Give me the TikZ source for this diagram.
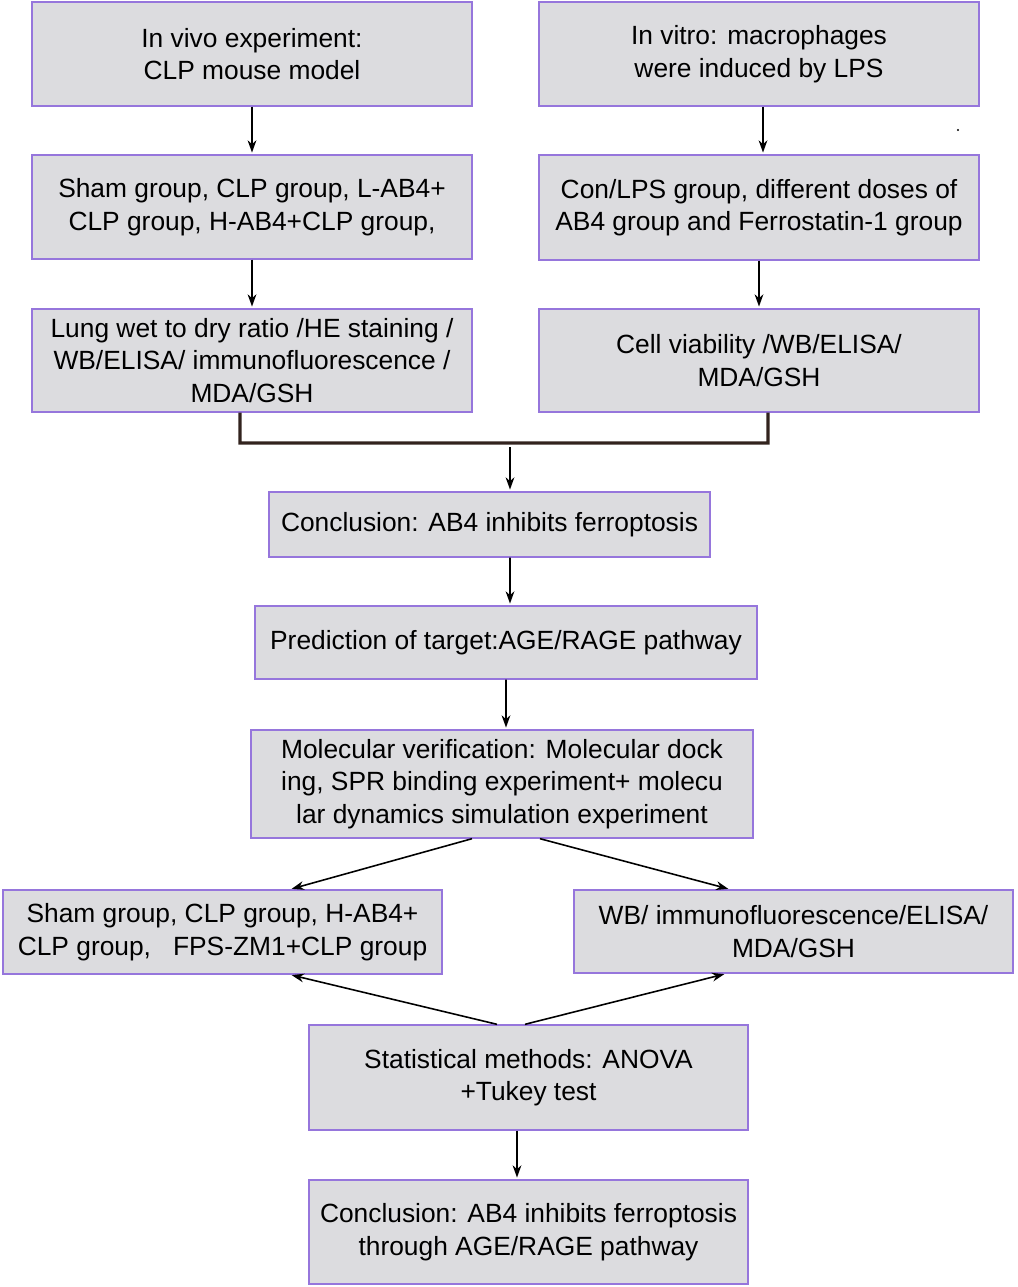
\documentclass[tikz,border=0pt]{standalone}
\usepackage{fontspec}
\setmainfont{Liberation Sans}
\usetikzlibrary{arrows.meta}
\definecolor{boxfill}{RGB}{220,220,223}
\definecolor{boxline}{RGB}{150,118,220}
\definecolor{brack}{RGB}{50,35,30}
\begin{document}
\begin{tikzpicture}[
x=0.02cm,y=-0.02cm,
>={Stealth[length=7pt,width=5pt]},
stage/.style={draw=boxline,fill=boxfill,line width=0.8pt,align=center,
  font=\fontsize{15}{18.5}\selectfont,inner sep=0pt},
arr/.style={draw,->,line width=0.9pt,shorten >=1pt}
]
\useasboundingbox (0,0) rectangle (1017,1287);

\node[stage,minimum width=8.8cm,minimum height=2.08cm] (vivo) at (252,54) {In vivo experiment:\\CLP mouse model};
\node[stage,minimum width=8.8cm,minimum height=2.08cm] (vitro) at (759,54) {In vitro: macrophages\\were induced by LPS};
\node[stage,minimum width=8.8cm,minimum height=2.08cm] (sham) at (252,207) {Sham group, CLP group, L-AB4+\\CLP group, H-AB4+CLP group,};
\node[stage,minimum width=8.8cm,minimum height=2.1cm] (con) at (759,207.5) {Con/LPS group, different doses of\\AB4 group and Ferrostatin-1 group};
\node[stage,minimum width=8.8cm,minimum height=2.06cm] (lung) at (252,360.5) {Lung wet to dry ratio /HE staining /\\WB/ELISA/ immunofluorescence /\\MDA/GSH};
\node[stage,minimum width=8.8cm,minimum height=2.06cm] (cell) at (759,360.5) {Cell viability /WB/ELISA/\\MDA/GSH};
\node[stage,minimum width=8.82cm,minimum height=1.3cm] (concl) at (489.5,524.5) {Conclusion: AB4 inhibits ferroptosis};
\node[stage,minimum width=10.04cm,minimum height=1.46cm] (pred) at (506,642.5) {Prediction of target:AGE/RAGE pathway};
\node[stage,minimum width=10.04cm,minimum height=2.16cm] (molec) at (502,784) {Molecular verification: Molecular dock\\ing, SPR binding experiment+ molecu\\lar dynamics simulation experiment};
\node[stage,minimum width=8.78cm,minimum height=1.68cm] (shamb) at (222.5,932) {Sham group, CLP group, H-AB4+\\CLP group,\ \ \ FPS-ZM1+CLP group};
\node[stage,minimum width=8.78cm,minimum height=1.66cm] (wb) at (793.5,931.5) {WB/ immunofluorescence/ELISA/\\MDA/GSH};
\node[stage,minimum width=8.78cm,minimum height=2.1cm] (stat) at (528.5,1077.5) {Statistical methods: ANOVA\\+Tukey test};
\node[stage,minimum width=8.78cm,minimum height=2.08cm] (final) at (528.5,1232) {Conclusion: AB4 inhibits ferroptosis\\through AGE/RAGE pathway};
\fill (958,130) circle (0.6pt);

% bracket joining both branches
\coordinate (jl) at (240,443);
\coordinate (jr) at (768,443);
\coordinate (jm) at (510,447);
\draw[brack,line width=1.8pt] ([xshift=-0.24cm]lung.south) -- (jl) -- (jr) -- ([xshift=0.18cm]cell.south);

\path[arr] (vivo) -- (sham);
\path[arr] ([xshift=0.08cm]vitro.south) -- ([xshift=0.08cm]con.north);
\path[arr] (sham) -- (lung);
\path[arr] (con) -- (cell);
\path[arr] (jm) -- ([xshift=0.41cm]concl.north);
\path[arr] ([xshift=0.41cm]concl.south) -- ([xshift=0.08cm]pred.north);
\path[arr] (pred) -- ([xshift=0.08cm]molec.north);
\path[arr] ([xshift=-0.6cm]molec.south) -- ([xshift=1.35cm]shamb.north);
\path[arr] ([xshift=0.76cm]molec.south) -- ([xshift=-1.27cm]wb.north);
\path[arr] ([xshift=-0.63cm]stat.north) -- ([xshift=1.35cm]shamb.south);
\path[arr] ([xshift=-0.07cm]stat.north) -- ([xshift=-1.35cm]wb.south);
\path[arr] ([xshift=-0.23cm]stat.south) -- ([xshift=-0.23cm]final.north);

\end{tikzpicture}
\end{document}
